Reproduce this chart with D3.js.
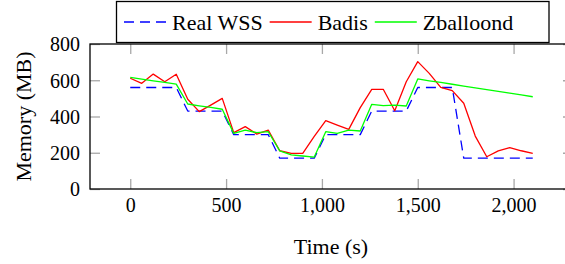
<!DOCTYPE html>
<html>
<head>
<meta charset="utf-8">
<script src="https://cdn.jsdelivr.net/npm/d3@7"></script>
<style>
  body { margin: 0; background: #fff; }
  svg { display: block; }
</style>
</head>
<body>
<svg id="chart" width="565" height="264"></svg>
<script>
// ===== Data (60 s steps) =====
const times = [0, 60, 120, 180, 240, 300, 360, 420, 480, 540, 600, 660, 720, 780, 840, 900,
               960, 1020, 1080, 1140, 1200, 1260, 1320, 1380, 1440, 1500, 1560, 1620, 1680,
               1740, 1800, 1860, 1920, 1980, 2040, 2100];

const realWss = [560, 560, 560, 560, 560, 430, 430, 430, 430, 300, 300, 300, 300, 170, 170, 170,
                 170, 300, 300, 300, 300, 430, 430, 430, 430, 560, 560, 560, 560,
                 170, 170, 170, 170, 170, 170, 170];

const badis = [611, 583, 634, 592, 633, 495, 427, 463, 500, 311, 344, 303, 325, 211, 197, 197,
               290, 377, 353, 329, 449, 550, 550, 432, 592, 703, 638, 561, 543,
               473, 292, 178, 210, 228, 211, 197];

const zballoond = [616, 606, 597, 588, 579, 469, 459, 450, 440, 307, 325, 311, 316, 210, 188, 182,
                   176, 316, 307, 325, 320, 467, 460, 463, 458, 607, 597, 588, 578,
                   568, 558, 548, 539, 529, 519, 509];

const xTicks = [0, 500, 1000, 1500, 2000];
const yTicks = [0, 200, 400, 600, 800];

const seriesNames = ['Real WSS', 'Badis', 'Zballoond'];

// ===== Layout =====
const plot = { left: 90, right: 573, top: 44, bottom: 189 };
const tickFontSize = 20;
const labelFontSize = 22;
const fontFamily = "'Liberation Serif', 'Times New Roman', Tinos, 'DejaVu Serif', serif";

const svg = d3.select('#chart');

const x = d3.scaleLinear().domain([-210, 2310]).range([plot.left, plot.right]);
const y = d3.scaleLinear().domain([0, 800]).range([plot.bottom, plot.top]);

const fmt = d3.format(',');

// clip for data lines
svg.append('defs').append('clipPath').attr('id', 'plotclip')
  .append('rect')
  .attr('x', plot.left).attr('y', plot.top)
  .attr('width', plot.right - plot.left).attr('height', plot.bottom - plot.top);

// --- Ticks: gray, inward, on all four sides ---
const tickLen = 10;
const tickColor = '#a8a8a8';

const axisBottom = d3.axisBottom(x).tickValues(xTicks).tickSize(-tickLen).tickPadding(12).tickFormat(fmt);
const axisTop    = d3.axisTop(x).tickValues(xTicks).tickSize(-tickLen).tickFormat('');
const axisLeft   = d3.axisLeft(y).tickValues(yTicks).tickSize(-tickLen).tickPadding(10);
const axisRight  = d3.axisRight(y).tickValues(yTicks).tickSize(-tickLen).tickFormat('');

function styleAxis(g) {
  g.attr('font-family', null).attr('font-size', null);
  g.select('.domain').remove();
  g.selectAll('.tick line').attr('stroke', tickColor).attr('stroke-width', 1.3);
  g.selectAll('.tick text')
    .style('font-size', tickFontSize + 'px')
    .style('font-family', fontFamily)
    .attr('fill', '#000');
}

svg.append('g').attr('transform', `translate(0,${plot.bottom})`).call(axisBottom).call(styleAxis)
  .selectAll('.tick text').attr('dy', null).attr('y', 23);
svg.append('g').attr('transform', `translate(0,${plot.top})`).call(axisTop).call(styleAxis);
svg.append('g').attr('transform', `translate(${plot.left},0)`).call(axisLeft).call(styleAxis)
  .selectAll('.tick text').attr('dy', '0.34em');
svg.append('g').attr('transform', `translate(${plot.right},0)`).call(axisRight).call(styleAxis);

// --- Data lines ---
const lineGen = vals => d3.line()
  .x((d, i) => x(times[i]))
  .y(d => y(d))(vals);

const lines = svg.append('g').attr('clip-path', 'url(#plotclip)');

const series = [
  { name: seriesNames[0], values: realWss,   color: '#0000ff', dash: '10,6' },
  { name: seriesNames[1], values: badis,     color: '#ff0000', dash: null },
  { name: seriesNames[2], values: zballoond, color: '#00ff00', dash: null }
];

series.forEach(s => {
  lines.append('path')
    .attr('d', lineGen(s.values))
    .attr('fill', 'none')
    .attr('stroke', s.color)
    .attr('stroke-width', 1.3)
    .attr('stroke-linejoin', 'round')
    .attr('stroke-dasharray', s.dash);
});

// --- Axis frame ---
svg.append('rect')
  .attr('x', plot.left).attr('y', plot.top)
  .attr('width', plot.right - plot.left).attr('height', plot.bottom - plot.top)
  .attr('fill', 'none').attr('stroke', '#000').attr('stroke-width', 1.3);

// --- Axis labels ---
svg.append('text')
  .attr('x', 331).attr('y', 254)
  .attr('text-anchor', 'middle')
  .style('font-size', labelFontSize + 'px')
  .style('font-family', fontFamily)
  .text('Time (s)');

svg.append('text')
  .attr('transform', `translate(31,${(plot.top + plot.bottom) / 2}) rotate(-90)`)
  .attr('text-anchor', 'middle')
  .style('font-size', labelFontSize + 'px')
  .style('font-family', fontFamily)
  .text('Memory (MB)');

// --- Legend ---
const legend = svg.append('g');
const legendBox = legend.append('rect')
  .attr('x', 116.5).attr('y', 1.5).attr('height', 41)
  .attr('fill', '#fff').attr('stroke', '#000').attr('stroke-width', 1.3);

let lx = 124;
const ly = 22;
series.forEach(s => {
  legend.append('line')
    .attr('x1', lx).attr('x2', lx + 42).attr('y1', ly).attr('y2', ly)
    .attr('stroke', s.color).attr('stroke-width', 1.3)
    .attr('stroke-dasharray', s.dash);
  const t = legend.append('text')
    .attr('x', lx + 48).attr('y', ly + 8)
    .style('font-size', labelFontSize + 'px')
    .style('font-family', fontFamily)
    .text(s.name);
  lx += 48 + t.node().getComputedTextLength() + 7;
});
legendBox.attr('width', Math.max(lx + 9, 549) - 116.5);
</script>
</body>
</html>
